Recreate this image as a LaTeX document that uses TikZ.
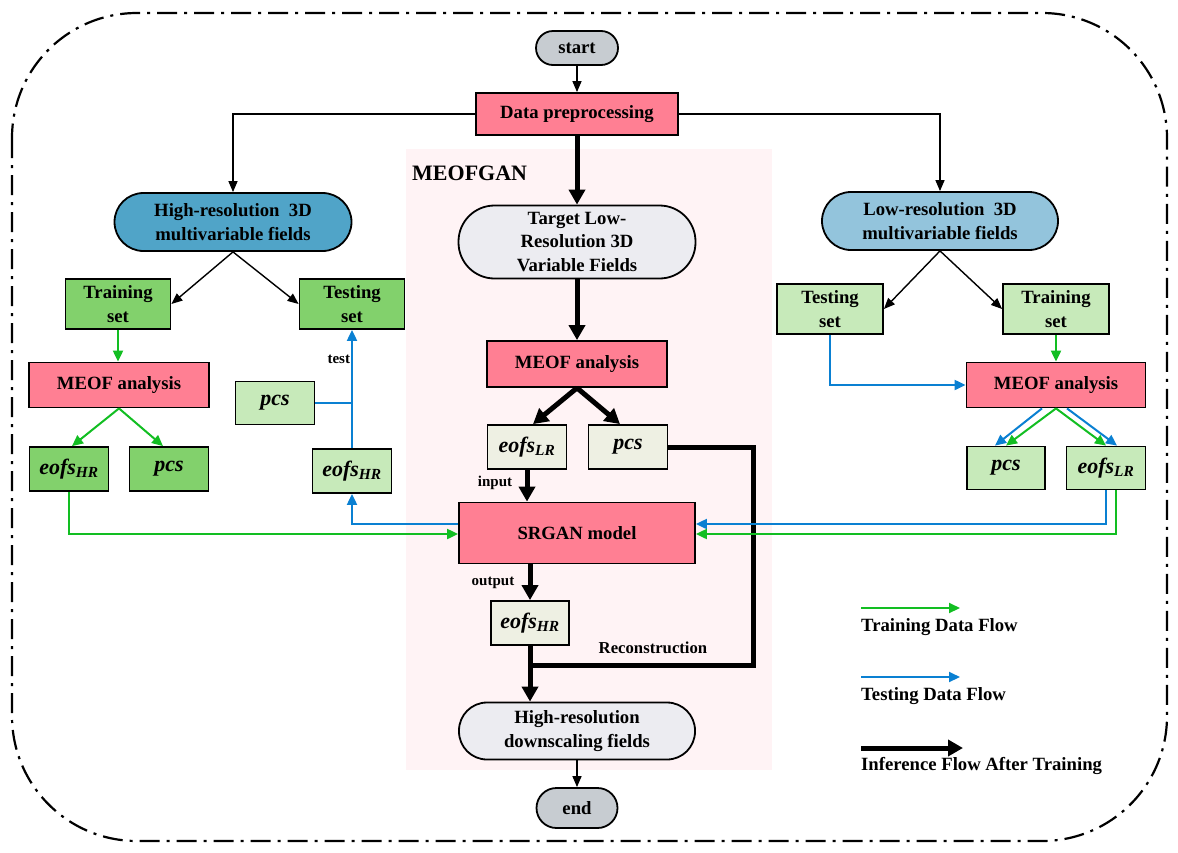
\documentclass[tikz,border=0pt]{standalone}
\usepackage{fontspec}
\setmainfont{Liberation Serif}
\usetikzlibrary{arrows.meta,calc}
\definecolor{BoxPink}{HTML}{FF7F93}
\definecolor{SetGreen}{HTML}{82D16C}
\definecolor{SetLight}{HTML}{C7EABA}
\definecolor{CoefBeige}{HTML}{EEF0E3}
\definecolor{HiBlue}{HTML}{50A4C8}
\definecolor{LoBlue}{HTML}{93C4DC}
\definecolor{TermGray}{HTML}{C7CCD1}
\definecolor{FieldGray}{HTML}{ECECF1}
\definecolor{PanelPink}{HTML}{FFF3F5}
\definecolor{FlowGreen}{HTML}{12BE22}
\definecolor{FlowBlue}{HTML}{0A80D2}
\newcommand{\boxfont}{\fontsize{18.7pt}{23.5pt}\selectfont\bfseries}
\newcommand{\coeffont}{\fontsize{22pt}{24pt}\selectfont\bfseries\itshape}
\tikzset{
  flowbox/.style={draw=black,line width=1.8pt,inner sep=0pt,align=center,font=\boxfont},
  procbox/.style={flowbox,fill=BoxPink},
  coefbox/.style={flowbox,font=\coeffont,minimum width=79pt,minimum height=44pt},
  pill/.style={flowbox,rounded corners=#1},
  thinarrow/.style={line width=1.4pt,-{Triangle[length=11pt,width=9pt]}},
  thickline/.style={line width=5pt},
  thickarrow/.style={thickline,-{Triangle[length=15pt,width=16pt]}},
  greenflow/.style={FlowGreen,line width=2pt,-{Triangle[length=11pt,width=10pt]}},
  blueflow/.style={FlowBlue,line width=2pt,-{Triangle[length=11pt,width=10pt]}},
  lbl/.style={inner sep=1pt,text=black,font=\fontsize{15pt}{15pt}\selectfont\bfseries},
  legend/.style={anchor=west,inner sep=0pt,font=\boxfont}
}
\begin{document}
\begin{tikzpicture}[x=1pt,y=-1pt]
\useasboundingbox (0,0) rectangle (1178,852);
\fill[PanelPink] (406,149) rectangle (772,770);
\draw[line width=2.2pt,dash pattern=on 20pt off 7pt on 3pt off 7pt,rounded corners=125pt] (12,13) rectangle (1167,841);
% centre column
\node[pill=17pt,fill=TermGray,minimum width=82pt,minimum height=34pt] (start) at (577,48) {start};
\node[procbox,minimum width=202pt,minimum height=42pt] (prep) at (577,114) {Data preprocessing};
\node[anchor=west,inner sep=0pt,font=\fontsize{22pt}{22pt}\selectfont\bfseries] (ganLbl) at (412,173) {MEOFGAN};
\node[pill=36pt,fill=FieldGray,minimum width=237pt,minimum height=73pt] (target) at (577,242) {Target Low-\\Resolution 3D\\Variable Fields};
\node[procbox,minimum width=180pt,minimum height=46pt] (meofC) at (577,364) {MEOF analysis};
\node[coefbox,fill=CoefBeige] (eofsLC) at (527,447) {eofs\textsubscript{LR}};
\node[coefbox,fill=CoefBeige] (pcsC) at (628,447) {pcs};
\node[procbox,minimum width=236pt,minimum height=61pt] (srgan) at (577,533) {SRGAN model};
\node[coefbox,fill=CoefBeige,minimum width=78pt] (eofsHC) at (530,623) {eofs\textsubscript{HR}};
\node[pill=28pt,fill=FieldGray,minimum width=236pt,minimum height=57pt] (hiOut) at (577,731) {High-resolution\\downscaling fields};
\node[pill=20pt,fill=TermGray,minimum width=81pt,minimum height=40pt] (finish) at (577,808) {end};
\node[lbl] (inLbl) at (495,483) {input};
\node[lbl] (outLbl) at (493,583) {output};
\node[lbl,font=\fontsize{16.7pt}{16.7pt}\selectfont\bfseries] (recLbl) at (653,648) {Reconstruction};
\coordinate (rc) at (753,665);
\coordinate (jn) at (eofsHC.south |- rc);
% left branch
\node[pill=29pt,fill=HiBlue,minimum width=237pt,minimum height=58pt] (hiField) at (233,222) {High-resolution\ \ 3D\\multivariable fields};
\node[flowbox,fill=SetGreen,minimum width=105pt,minimum height=50pt] (trainL) at (118,304) {Training\\set};
\node[flowbox,fill=SetGreen,minimum width=105pt,minimum height=50pt] (testL) at (352,304) {Testing\\set};
\node[procbox,minimum width=180pt,minimum height=45pt] (meofL) at (119,385) {MEOF analysis};
\node[coefbox,fill=SetGreen] (eofsHL) at (69,469) {eofs\textsubscript{HR}};
\node[coefbox,fill=SetGreen] (pcsL) at (169,469) {pcs};
\node[coefbox,fill=SetLight,minimum height=43pt] (pcsT) at (275,403) {pcs};
\node[coefbox,fill=SetLight] (eofsHT) at (352,471) {eofs\textsubscript{HR}};
% right branch
\node[pill=29pt,fill=LoBlue,minimum width=236pt,minimum height=58pt] (loField) at (940,221) {Low-resolution\ \ 3D\\multivariable fields};
\node[flowbox,fill=SetLight,minimum width=106pt,minimum height=50pt] (testR) at (830,309) {Testing\\set};
\node[flowbox,fill=SetLight,minimum width=106pt,minimum height=50pt] (trainR) at (1056,309) {Training\\set};
\node[procbox,minimum width=179pt,minimum height=45pt] (meofR) at (1056,385) {MEOF analysis};
\node[coefbox,fill=SetLight,minimum width=78pt,minimum height=43pt] (pcsR) at (1006,468) {pcs};
\node[coefbox,fill=SetLight,minimum height=43pt] (eofsLR) at (1106,468) {eofs\textsubscript{LR}};
% connectors
\draw[thinarrow] (start) -- (prep);
\draw[thinarrow] (prep.west) -| (hiField.north);
\draw[thinarrow] (prep.east) -| (loField.north);
\draw[thickarrow] (prep) -- (target);
\draw[thickarrow] (target) -- (meofC);
\draw[thickarrow] (meofC.south) -- ([xshift=6pt]eofsLC.north);
\draw[thickarrow] (meofC.south) -- ([xshift=-8pt]pcsC.north);
\draw[thickarrow] (eofsLC) -- (eofsLC |- srgan.north);
\draw[thickarrow] (eofsHC |- srgan.south) -- (eofsHC);
\draw[thickarrow] (eofsHC) -- (eofsHC |- hiOut.north);
\draw[thickline] (pcsC.east) -| (rc) -- (jn);
\draw[thinarrow] (hiOut) -- (finish);
\draw[thinarrow] (hiField.south) -- (trainL.east);
\draw[thinarrow] (hiField.south) -- (testL.west);
\draw[greenflow] (trainL.south) -- (trainL.south |- meofL.north);
\draw[greenflow] (meofL.south) -- ([xshift=3pt]eofsHL.north);
\draw[greenflow] (meofL.south) -- ([xshift=-6pt]pcsL.north);
\draw[greenflow] (eofsHL.south) |- ([yshift=-1pt]srgan.west);
\draw[blueflow] ([yshift=9pt]srgan.west) -| (eofsHT.south);
\draw[blueflow] (eofsHT.north) -- node[lbl,left,pos=0.75] {test} (eofsHT.north |- testL.south);
\draw[FlowBlue,line width=2pt] (pcsT.east) -- (pcsT.east -| eofsHT.north);
\draw[thinarrow] (loField.south) -- (testR.east);
\draw[thinarrow] (loField.south) -- (trainR.west);
\draw[greenflow] (trainR) -- (meofR);
\draw[blueflow] (testR.south) |- (meofR.west);
\draw[blueflow] ([xshift=-14pt]meofR.south) -- ([xshift=-11pt]pcsR.north);
\draw[greenflow] (meofR.south) -- (pcsR.north);
\draw[greenflow] (meofR.south) -- (eofsLR.north);
\draw[blueflow] ([xshift=11pt]meofR.south) -- ([xshift=11pt]eofsLR.north);
\draw[blueflow] (eofsLR.south) |- ([yshift=9pt]srgan.east);
\draw[greenflow] ([xshift=10pt]eofsLR.south) |- ([yshift=-1pt]srgan.east);
% legend
\coordinate (trA) at (861,608);
\coordinate (trB) at (960,608);
\coordinate (teA) at (861,677);
\coordinate (teB) at (960,677);
\coordinate (inA) at (861,748);
\coordinate (inB) at (963,748);
\draw[greenflow] (trA) -- (trB);
\draw[blueflow] (teA) -- (teB);
\draw[thickarrow] (inA) -- (inB);
\node[legend] (trTxt) at (861,627) {Training Data Flow};
\node[legend] (teTxt) at (861,696) {Testing Data Flow};
\node[legend] (inTxt) at (861,766) {Inference Flow After Training};
\end{tikzpicture}
\end{document}
